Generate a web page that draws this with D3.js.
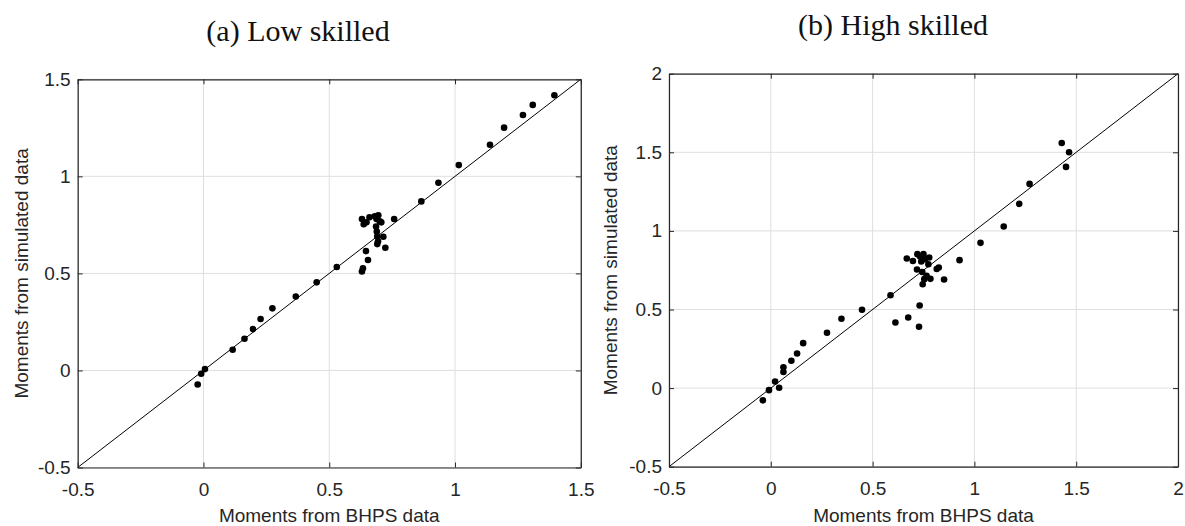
<!DOCTYPE html>
<html>
<head>
<meta charset="utf-8">
<script src="https://cdn.jsdelivr.net/npm/d3@7"></script>
<style>
  body { margin: 0; background: #fff; }
  svg { display: block; }
</style>
</head>
<body>
<svg id="chart" width="1185" height="526"></svg>
<script>
// Low skilled: data moments (x) vs simulated moments (y)
const lowX = [-0.023, -0.009, 0.006, 0.116, 0.163, 0.197, 0.227, 0.274, 0.367, 0.450,
              0.530, 0.630, 0.634, 0.646, 0.654, 0.723, 0.715, 0.691, 0.758, 0.866,
              0.934, 1.015, 1.139, 1.195, 1.270, 1.309, 1.395,
              0.630, 0.637, 0.648, 0.660, 0.681, 0.695, 0.701, 0.686, 0.689, 0.691,
              0.694, 0.707, 0.688];
const lowY = [-0.072, -0.017, 0.007, 0.107, 0.163, 0.213, 0.265, 0.320, 0.381, 0.454,
              0.533, 0.510, 0.526, 0.615, 0.569, 0.632, 0.689, 0.651, 0.780, 0.871,
              0.967, 1.058, 1.163, 1.251, 1.316, 1.368, 1.418,
              0.780, 0.753, 0.763, 0.789, 0.794, 0.799, 0.768, 0.742, 0.716, 0.691,
              0.665, 0.763, 0.780];

// High skilled
const highX = [-0.039, -0.009, 0.021, 0.041, 0.062, 0.062, 0.101, 0.129, 0.159, 0.276,
               0.347, 0.448, 0.588, 0.612, 0.675, 0.728, 0.731, 0.851, 0.927, 1.030,
               1.144, 1.220, 1.271, 1.429, 1.465, 1.450,
               0.668, 0.698, 0.720, 0.750, 0.739, 0.778, 0.774, 0.718, 0.744, 0.765,
               0.784, 0.746, 0.754, 0.815, 0.825, 0.757, 0.733];
const highY = [-0.078, -0.013, 0.042, 0.002, 0.102, 0.133, 0.174, 0.220, 0.286, 0.352,
               0.441, 0.498, 0.591, 0.417, 0.449, 0.390, 0.525, 0.691, 0.814, 0.924,
               1.028, 1.172, 1.299, 1.559, 1.500, 1.407,
               0.824, 0.809, 0.852, 0.852, 0.805, 0.831, 0.788, 0.754, 0.739, 0.714,
               0.695, 0.661, 0.693, 0.758, 0.767, 0.820, 0.837];

const lowTicks = [-0.5, 0, 0.5, 1, 1.5];
const highTicks = [-0.5, 0, 0.5, 1, 1.5, 2];

const svg = d3.select("#chart");
const axisColor = "#262626";
const fmt = d => String(d);

function drawPanel(p) {
    const g = svg.append("g");
    const x = d3.scaleLinear().domain(p.domain).range([p.left, p.right]);
    const y = d3.scaleLinear().domain(p.domain).range([p.bottom, p.top]);

    // grille
    g.selectAll(".gx").data(p.ticks).enter().append("line")
        .attr("x1", d => x(d)).attr("x2", d => x(d))
        .attr("y1", p.top).attr("y2", p.bottom)
        .attr("stroke", "#dfdfdf").attr("stroke-width", 1);
    g.selectAll(".gy").data(p.ticks).enter().append("line")
        .attr("y1", d => y(d)).attr("y2", d => y(d))
        .attr("x1", p.left).attr("x2", p.right)
        .attr("stroke", "#dfdfdf").attr("stroke-width", 1);

    // diagonale y = x
    g.append("line")
        .attr("x1", x(p.domain[0])).attr("y1", y(p.domain[0]))
        .attr("x2", x(p.domain[1])).attr("y2", y(p.domain[1]))
        .attr("stroke", "#000").attr("stroke-width", 1);

    // points
    g.selectAll("circle").data(p.xs).enter().append("circle")
        .attr("cx", d => x(d))
        .attr("cy", (d, i) => y(p.ys[i]))
        .attr("r", 3.3)
        .attr("fill", "#000");

    // axes (ticks vers l'intérieur, sur les quatre côtés)
    const styleAxis = sel => {
        sel.select(".domain").attr("stroke", axisColor).attr("stroke-width", 1.2);
        sel.selectAll(".tick line").attr("stroke", axisColor);
        sel.selectAll("text")
            .attr("fill", axisColor)
            .style("font-family", "'Liberation Sans', Arial, sans-serif")
            .style("font-size", "19px");
    };

    g.append("g")
        .attr("transform", `translate(0,${p.bottom})`)
        .call(d3.axisBottom(x).tickValues(p.ticks).tickFormat(fmt).tickSizeInner(-5).tickSizeOuter(0).tickPadding(15))
        .call(styleAxis);
    g.append("g")
        .attr("transform", `translate(${p.left},0)`)
        .call(d3.axisLeft(y).tickValues(p.ticks).tickFormat(fmt).tickSizeInner(-5).tickSizeOuter(0).tickPadding(7))
        .call(styleAxis);
    g.append("g")
        .attr("transform", `translate(0,${p.top})`)
        .call(d3.axisTop(x).tickValues(p.ticks).tickFormat("").tickSizeInner(-5).tickSizeOuter(0))
        .call(styleAxis);
    g.append("g")
        .attr("transform", `translate(${p.right},0)`)
        .call(d3.axisRight(y).tickValues(p.ticks).tickFormat("").tickSizeInner(-5).tickSizeOuter(0))
        .call(styleAxis);

    // titres des axes
    g.append("text")
        .attr("x", (p.left + p.right) / 2)
        .attr("y", p.xLabelY)
        .attr("text-anchor", "middle")
        .attr("fill", axisColor)
        .style("font-family", "'Liberation Sans', Arial, sans-serif")
        .style("font-size", "19px")
        .text("Moments from BHPS data");
    g.append("text")
        .attr("transform", `translate(${p.yLabelX},${(p.top + p.bottom) / 2}) rotate(-90)`)
        .attr("text-anchor", "middle")
        .attr("fill", axisColor)
        .style("font-family", "'Liberation Sans', Arial, sans-serif")
        .style("font-size", "19px")
        .text("Moments from simulated data");

    // sous-titre
    svg.append("text")
        .attr("x", p.titleX)
        .attr("y", p.titleY)
        .attr("text-anchor", "middle")
        .attr("fill", "#111")
        .style("font-family", "'Liberation Serif', 'Times New Roman', serif")
        .style("font-size", "30px")
        .text(p.title);
}

drawPanel({
    xs: lowX, ys: lowY, domain: [-0.5, 1.5], ticks: lowTicks,
    left: 77.7, right: 580.8, top: 79.3, bottom: 467.5,
    xLabelY: 521.5, yLabelX: 28,
    title: "(a) Low skilled", titleX: 298, titleY: 40.5
});

drawPanel({
    xs: highX, ys: highY, domain: [-0.5, 2], ticks: highTicks,
    left: 669, right: 1178, top: 73.7, bottom: 466.7,
    xLabelY: 521.5, yLabelX: 617,
    title: "(b) High skilled", titleX: 893, titleY: 35
});
</script>
</body>
</html>
